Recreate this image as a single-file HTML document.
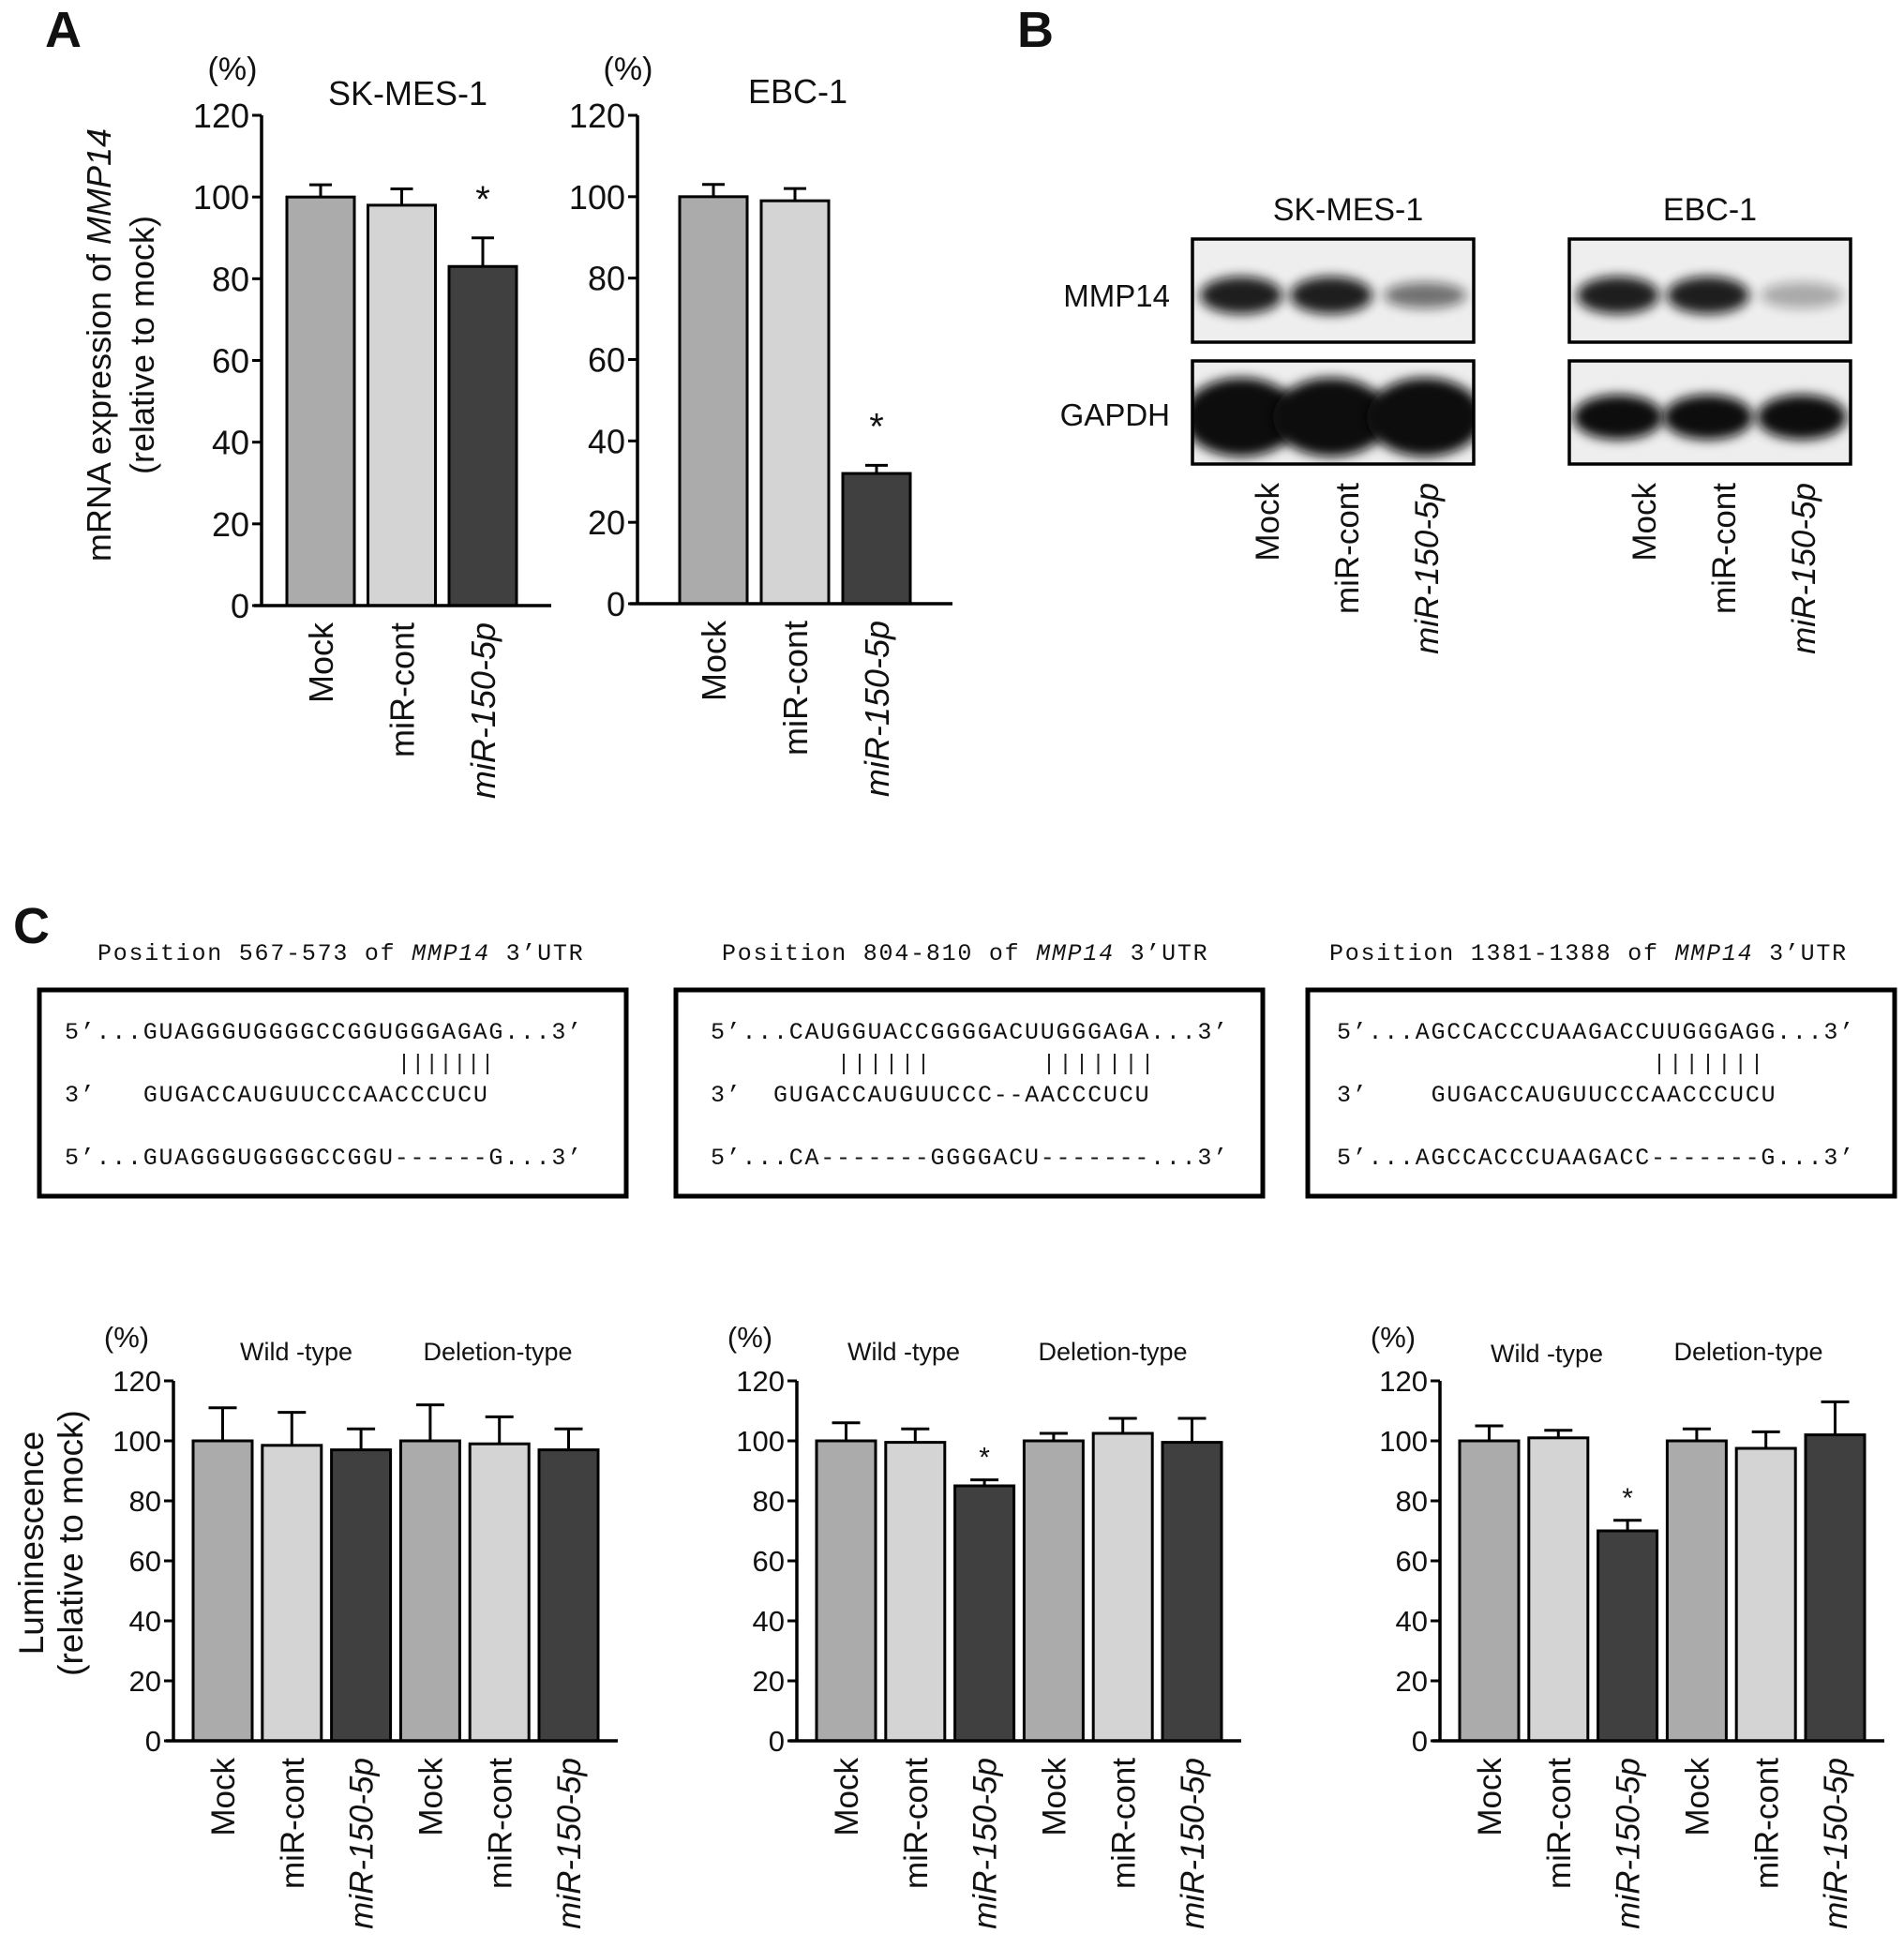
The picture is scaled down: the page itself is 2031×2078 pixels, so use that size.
<!DOCTYPE html>
<html><head><meta charset="utf-8"><style>
html,body{margin:0;padding:0;background:#fff;}
svg{display:block;}
text{font-family:"Liberation Sans",Arial,sans-serif;fill:#111;}
.mono{font-family:"Liberation Mono","Courier New",monospace;white-space:pre;}
</style></head><body>
<svg id="fig" width="2031" height="2078" viewBox="0 0 2031 2078" xmlns="http://www.w3.org/2000/svg">
<defs>
<filter id="blur" x="-50%" y="-50%" width="200%" height="200%"><feGaussianBlur stdDeviation="6"/></filter>
</defs>
<text x="48" y="50" font-size="54" font-weight="bold">A</text>
<text x="1085" y="50" font-size="54" font-weight="bold">B</text>
<text x="14" y="1006" font-size="54" font-weight="bold">C</text>

<g transform="translate(118,368) rotate(-90)">
<text x="0" y="0" font-size="36" text-anchor="middle">mRNA expression of <tspan font-style="italic">MMP14</tspan></text>
<text x="0" y="46" font-size="36" text-anchor="middle">(relative to mock)</text>
</g>
<g transform="translate(46,1646) rotate(-90)">
<text x="0" y="0" font-size="37" text-anchor="middle">Luminescence</text>
<text x="0" y="42" font-size="37" text-anchor="middle">(relative to mock)</text>
</g>

<g id="wb"></g>
<g id="seq"></g>
<g id="charts"></g>
</svg>
<script>
const NS='http://www.w3.org/2000/svg';
function mk(tag,attrs,parent,txt){const e=document.createElementNS(NS,tag);for(const k in attrs)e.setAttribute(k,attrs[k]);if(txt!==undefined)e.textContent=txt;parent.appendChild(e);return e;}

// ---------- data ----------
const categories=['Mock','miR-cont','miR-150-5p'];
const categories6=['Mock','miR-cont','miR-150-5p','Mock','miR-cont','miR-150-5p'];
const yTicks=[0,20,40,60,80,100,120];
const skmesValues=[100,98,83];
const skmesErrors=[3,4,7];
const skmesSig=[false,false,true];
const ebcValues=[100,99,32];
const ebcErrors=[3,3,2];
const ebcSig=[false,false,true];
const lucValues1=[100,98.5,97,100,99,97];
const lucErrors1=[11,11,7,12,9,7];
const lucSig1=[false,false,false,false,false,false];
const lucValues2=[100,99.5,85,100,102.5,99.5];
const lucErrors2=[6,4.5,2,2.5,5,8];
const lucSig2=[false,false,true,false,false,false];
const lucValues3=[100,101,70,100,97.5,102];
const lucErrors3=[5,2.5,3.5,4,5.5,11];
const lucSig3=[false,false,true,false,false,false];
const barColors=['#ababab','#d4d4d4','#404040'];

function chart(o){
  const g=mk('g',{},document.getElementById('charts'));
  
  
  const ys=v=>o.y0-(v/120)*(o.y0-o.y120);
  const xs=i=>o.ax+o.off+i*o.step;
  const yl=mk('line',{x1:o.ax,y1:o.y120,x2:o.ax,y2:o.y0+1.5,stroke:'#000','stroke-width':3.5},g);
  
  
  yTicks.forEach(t=>{
    mk('line',{x1:o.ax-10,y1:ys(t),x2:o.ax,y2:ys(t),stroke:'#000','stroke-width':3},g);
    const tl=mk('text',{x:o.ax-13,y:ys(t)+o.tf*0.36,'font-size':o.tf,'text-anchor':'end'},g,String(t));
    
    
  });
  o.values.forEach((v,i)=>{
    const x=xs(i),c=x+o.bw/2;
    const top=ys(v+o.errors[i]);
    mk('line',{x1:c,y1:ys(v),x2:c,y2:top,stroke:'#000','stroke-width':3},g);
    mk('line',{x1:c-o.cap/2,y1:top,x2:c+o.cap/2,y2:top,stroke:'#000','stroke-width':3},g);
    const r=mk('rect',{x:x,y:ys(v),width:o.bw,height:o.y0-ys(v),fill:barColors[i%3],stroke:'#000','stroke-width':3},g);
    
    
    if(o.sig[i]){const s=mk('text',{x:c,y:top-o.starGap,'font-size':o.sf,'text-anchor':'middle'},g,'*');
      
      }
    const lt=mk('text',{transform:`translate(${c+o.lf*0.36},${o.y0+18}) rotate(-90)`,'font-size':o.lf,'text-anchor':'end'},g,o.cats[i]);
    if(i%3==2)lt.setAttribute('font-style','italic');
    
    
  });
  const xl=mk('line',{x1:o.ax-8,y1:o.y0,x2:o.xEnd,y2:o.y0,stroke:'#000','stroke-width':3.5},g);
  
  
  const p=mk('text',{x:o.ax-o.pctDx,y:o.pctY,'font-size':o.pf,'text-anchor':'middle'},g,'(%)');
  
  
  (o.titles||[]).forEach(t=>{const e=mk('text',{x:t[1],y:t[2],'font-size':t[3],'text-anchor':'middle'},g,t[0]);
    
    });
}
chart({name:'skmes-chart',ax:279,y0:646,y120:123,off:27,bw:72,step:86.5,cap:24,xEnd:588,tf:36,lf:36,pf:34,sf:40,starGap:28,pctDx:31,pctY:85,cats:categories,values:skmesValues,errors:skmesErrors,sig:skmesSig,titles:[['SK-MES-1',435,112,36]]});
chart({name:'ebc-chart',ax:680,y0:644,y120:123,off:45,bw:72,step:87,cap:24,xEnd:1016,tf:36,lf:36,pf:34,sf:40,starGap:28,pctDx:10,pctY:85,cats:categories,values:ebcValues,errors:ebcErrors,sig:ebcSig,titles:[['EBC-1',851,110,36]]});
const bc={y0:1857,y120:1473,off:21,bw:63,step:73.8,cap:30,tf:31,lf:35,pf:31,sf:30,starGap:14,pctDx:50,pctY:1437,cats:categories6};
chart(Object.assign({},bc,{name:'luciferase-chart-567',ax:185,xEnd:659,values:lucValues1,errors:lucErrors1,sig:lucSig1,titles:[['Wild -type',316,1451,27],['Deletion-type',531,1451,27]]}));
chart(Object.assign({},bc,{name:'luciferase-chart-804',ax:850,xEnd:1324,values:lucValues2,errors:lucErrors2,sig:lucSig2,titles:[['Wild -type',964,1451,27],['Deletion-type',1187,1451,27]]}));
chart(Object.assign({},bc,{name:'luciferase-chart-1381',ax:1536,xEnd:2010,values:lucValues3,errors:lucErrors3,sig:lucSig3,titles:[['Wild -type',1650,1453,27],['Deletion-type',1865,1451,27]]}));

// ---------- Western blot ----------
const wb=document.getElementById('wb');
[['SK-MES-1',1272,1438],['EBC-1',1674,1824]].forEach((b,bi)=>{
  const t=mk('text',{x:b[2],y:235,'font-size':34,'text-anchor':'middle'},wb,b[0]);
  
  
  [[255,'mmp14'],[385,'gapdh']].forEach((r,ri)=>{
    const g=mk('g',{},wb);
    
    
    mk('rect',{x:b[1],y:r[0],width:300,height:110,fill:'#eeeeee'},g);
    const cx=[b[1]+52,b[1]+148,b[1]+248];
    const clip='c'+bi+ri;
    const cp=mk('clipPath',{id:clip},g);mk('rect',{x:b[1],y:r[0],width:300,height:110},cp);
    const gg=mk('g',{'clip-path':`url(#${clip})`},g);
    cx.forEach((x,i)=>{
      if(ri==0){
        const op=i<2?0.92:(bi==0?0.55:0.3);
        mk('ellipse',{cx:x,cy:r[0]+60,rx:44,ry:i<2?20:14,fill:'#111',opacity:op,filter:'url(#blur)'},gg);
      }else{
        const ry=bi==0?42:24, rx=bi==0?62:48;
        mk('ellipse',{cx:x,cy:r[0]+60,rx:rx,ry:ry,fill:'#080808',filter:'url(#blur)'},gg);
      }
    });
    mk('rect',{x:b[1],y:r[0],width:300,height:110,fill:'none',stroke:'#000','stroke-width':3.5},g);
  });
  ['Mock','miR-cont','miR-150-5p'].forEach((c,i)=>{
    const x=b[1]+92+i*85;
    const l=mk('text',{transform:`translate(${x},515) rotate(-90)`,'font-size':35,'text-anchor':'end'},wb,c);
    if(i==2)l.setAttribute('font-style','italic');
    
    
  });
});
[['MMP14',327],['GAPDH',454]].forEach(r=>{
  const l=mk('text',{x:1248,y:r[1],'font-size':33,'text-anchor':'end'},wb,r[0]);
  
  
});

// ---------- Sequences ----------
const CW=16.7;
const seq=document.getElementById('seq');
const boxes=[
 {bx:42,tx:104,px:69,title:['Position 567-573 of ','MMP14',' 3\u2019UTR'],
  lines:['5\u2019...GUAGGGUGGGGCCGGUGGGAGAG...3\u2019','3\u2019   GUGACCAUGUUCCCAACCCUCU','5\u2019...GUAGGGUGGGGCCGGU------G...3\u2019'],
  bars:[[431,520,7]]},
 {bx:721,tx:770,px:758,title:['Position 804-810 of ','MMP14',' 3\u2019UTR'],
  lines:['5\u2019...CAUGGUACCGGGGACUUGGGAGA...3\u2019','3\u2019  GUGACCAUGUUCCC--AACCCUCU','5\u2019...CA-------GGGGACU-------...3\u2019'],
  bars:[[900,985,6],[1119,1224,7]]},
 {bx:1395,tx:1418,px:1426,title:['Position 1381-1388 of ','MMP14',' 3\u2019UTR'],
  lines:['5\u2019...AGCCACCCUAAGACCUUGGGAGG...3\u2019','3\u2019    GUGACCAUGUUCCCAACCCUCU','5\u2019...AGCCACCCUAAGACC-------G...3\u2019'],
  bars:[[1770,1874,7]]}
];
const lineY=[1108,1175,1242];
boxes.forEach((b,i)=>{
  const g=mk('g',{},seq);
  
  
  const ttl=b.title.join('');
  const t=mk('text',{x:b.tx,y:1024,'font-size':25,class:'mono','xml:space':'preserve',textLength:ttl.length*CW,lengthAdjust:'spacing'},g);
  
  
  mk('tspan',{},t,b.title[0]);mk('tspan',{'font-style':'italic'},t,b.title[1]);mk('tspan',{},t,b.title[2]);
  mk('rect',{x:b.bx,y:1056,width:626,height:220,fill:'none',stroke:'#000','stroke-width':5},g);
  b.lines.forEach((l,j)=>{
    const e=mk('text',{x:b.px,y:lineY[j],'font-size':25,class:'mono','xml:space':'preserve',textLength:l.length*CW,lengthAdjust:'spacing'},g,l);
    
    
  });
  b.bars.forEach(br=>{
    const sp=(br[1]-br[0])/(br[2]-1);
    for(let k=0;k<br[2];k++){
      mk('line',{x1:br[0]+k*sp,y1:1124,x2:br[0]+k*sp,y2:1146,stroke:'#222','stroke-width':2},g);
    }
  });
});
</script>
</body></html>
